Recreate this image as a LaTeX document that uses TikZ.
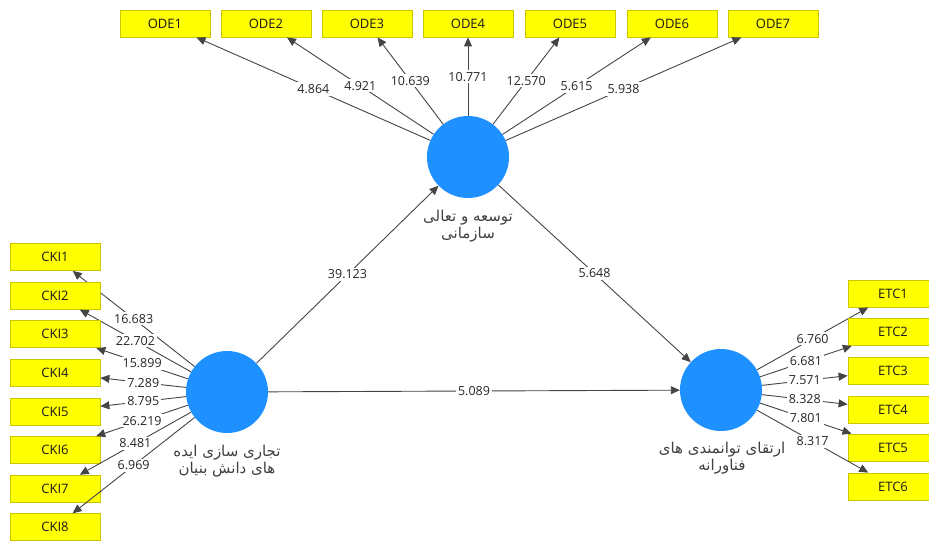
\documentclass[tikz,border=0pt]{standalone}
\usepackage{fontspec}
\setmainfont{Open Sans}
\newfontfamily\arabicfont[Script=Arabic]{DejaVu Sans}
\TeXXeTstate=1
\usetikzlibrary{arrows.meta}

\definecolor{lvblue}{HTML}{1E90FF}
\definecolor{mvyellow}{HTML}{FFFF00}
\definecolor{mvedge}{HTML}{C8C800}
\definecolor{pathgray}{HTML}{444444}

\tikzset{
  latent/.style={circle, fill=lvblue, minimum size=82pt, inner sep=0pt},
  indicator/.style={rectangle, fill=mvyellow, draw=mvedge, line width=0.8pt,
    minimum width=90pt, minimum height=27pt, inner sep=0pt,
    font=\fontsize{13}{14}\selectfont, text=black!90},
  loading/.style={-{Triangle[length=9pt,width=8pt]}, draw=pathgray, line width=0.9pt},
  tval/.style={midway, fill=white, inner sep=2pt,
    font=\fontsize{12.5}{14}\selectfont, text=black!85},
  lvname/.style={align=center, font=\arabicfont\fontsize{15}{17}\selectfont, text=black!75}
}

\begin{document}
\begin{tikzpicture}[x=1pt,y=-1pt]
  \useasboundingbox (0,0) rectangle (929,541);
  % latent variables
  \node[latent] (ode) at (468,157) {};
  \node[latent] (cki) at (227,392) {};
  \node[latent] (etc) at (721,390) {};
  \node[lvname] (odename) at (468,226) {\beginR توسعه و تعالی\endR\\\beginR سازمانی\endR};
  \node[lvname] (ckiname) at (227,461) {\beginR تجاری سازی ایده\endR\\\beginR های دانش بنیان\endR};
  \node[lvname] (etcname) at (722,458) {\beginR ارتقای توانمندی های\endR\\\beginR فناورانه\endR};
  % inner model
  \draw[loading] (cki) -- (ode) node[tval] {39.123};
  \draw[loading] (ode) -- (etc) node[tval] {5.648};
  \draw[loading] (cki) -- (etc) node[tval] {5.089};
  % outer model
  \foreach \i/\x/\t in {1/165/4.864, 2/266/4.921, 3/367/10.639, 4/468/10.771,
      5/570/12.570, 6/672/5.615, 7/773/5.938} {
    \node[indicator] (ode\i) at (\x,23.5) {ODE\i};
    \draw[loading] (ode) -- (ode\i) node[tval] {\t};
  }
  \foreach \i/\y/\t in {1/257/16.683, 2/295.6/22.702, 3/334.2/15.899, 4/372.8/7.289,
      5/411.4/8.795, 6/450/26.219, 7/488.6/8.481, 8/527.2/6.969} {
    \node[indicator] (cki\i) at (55,\y) {CKI\i};
    \draw[loading] (cki) -- (cki\i) node[tval] {\t};
  }
  \foreach \i/\y/\t in {1/293.5/6.760, 2/332/6.681, 3/370.5/7.571, 4/409.5/8.328,
      5/447.5/7.801, 6/486.5/8.317} {
    \node[indicator] (etc\i) at (893,\y) {ETC\i};
    \draw[loading] (etc) -- (etc\i) node[tval] {\t};
  }
\end{tikzpicture}
\end{document}
